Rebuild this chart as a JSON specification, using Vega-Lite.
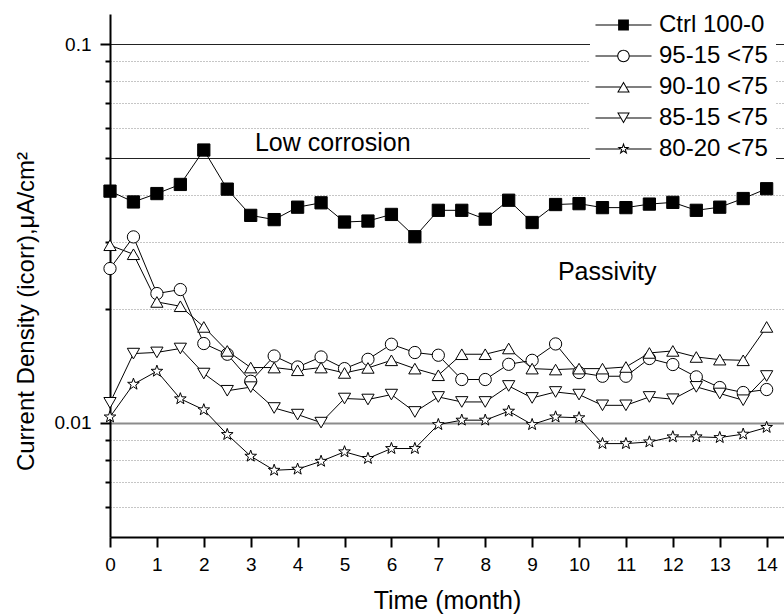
{
  "$schema": "https://vega.github.io/schema/vega-lite/v6.json",
  "width": 674,
  "height": 523,
  "autosize": {"type": "none"},
  "padding": {"left": 110, "top": 14, "right": 0, "bottom": 77},
  "background": "white",
  "config": {"font": "Liberation Sans", "view": {"stroke": null}},
  "datasets": {
    "series": [
      {"month": 0, "series": "Ctrl 100-0", "value": 0.0409},
      {"month": 0.5, "series": "Ctrl 100-0", "value": 0.0383},
      {"month": 1, "series": "Ctrl 100-0", "value": 0.0403},
      {"month": 1.5, "series": "Ctrl 100-0", "value": 0.0426},
      {"month": 2, "series": "Ctrl 100-0", "value": 0.0525},
      {"month": 2.5, "series": "Ctrl 100-0", "value": 0.0414},
      {"month": 3, "series": "Ctrl 100-0", "value": 0.0353},
      {"month": 3.5, "series": "Ctrl 100-0", "value": 0.0344},
      {"month": 4, "series": "Ctrl 100-0", "value": 0.0371},
      {"month": 4.5, "series": "Ctrl 100-0", "value": 0.0381},
      {"month": 5, "series": "Ctrl 100-0", "value": 0.0339},
      {"month": 5.5, "series": "Ctrl 100-0", "value": 0.0341},
      {"month": 6, "series": "Ctrl 100-0", "value": 0.0355},
      {"month": 6.5, "series": "Ctrl 100-0", "value": 0.0310},
      {"month": 7, "series": "Ctrl 100-0", "value": 0.0364},
      {"month": 7.5, "series": "Ctrl 100-0", "value": 0.0364},
      {"month": 8, "series": "Ctrl 100-0", "value": 0.0345},
      {"month": 8.5, "series": "Ctrl 100-0", "value": 0.0387},
      {"month": 9, "series": "Ctrl 100-0", "value": 0.0338},
      {"month": 9.5, "series": "Ctrl 100-0", "value": 0.0377},
      {"month": 10, "series": "Ctrl 100-0", "value": 0.0379},
      {"month": 10.5, "series": "Ctrl 100-0", "value": 0.0370},
      {"month": 11, "series": "Ctrl 100-0", "value": 0.0370},
      {"month": 11.5, "series": "Ctrl 100-0", "value": 0.0378},
      {"month": 12, "series": "Ctrl 100-0", "value": 0.0382},
      {"month": 12.5, "series": "Ctrl 100-0", "value": 0.0364},
      {"month": 13, "series": "Ctrl 100-0", "value": 0.0371},
      {"month": 13.5, "series": "Ctrl 100-0", "value": 0.0391},
      {"month": 14, "series": "Ctrl 100-0", "value": 0.0415},
      {"month": 0, "series": "95-15 <75", "value": 0.02555},
      {"month": 0.5, "series": "95-15 <75", "value": 0.03097},
      {"month": 1, "series": "95-15 <75", "value": 0.02195},
      {"month": 1.5, "series": "95-15 <75", "value": 0.02249},
      {"month": 2, "series": "95-15 <75", "value": 0.0162},
      {"month": 2.5, "series": "95-15 <75", "value": 0.01518},
      {"month": 3, "series": "95-15 <75", "value": 0.01288},
      {"month": 3.5, "series": "95-15 <75", "value": 0.01502},
      {"month": 4, "series": "95-15 <75", "value": 0.01405},
      {"month": 4.5, "series": "95-15 <75", "value": 0.01493},
      {"month": 5, "series": "95-15 <75", "value": 0.01391},
      {"month": 5.5, "series": "95-15 <75", "value": 0.01472},
      {"month": 6, "series": "95-15 <75", "value": 0.01613},
      {"month": 6.5, "series": "95-15 <75", "value": 0.01534},
      {"month": 7, "series": "95-15 <75", "value": 0.01509},
      {"month": 7.5, "series": "95-15 <75", "value": 0.01302},
      {"month": 8, "series": "95-15 <75", "value": 0.01302},
      {"month": 8.5, "series": "95-15 <75", "value": 0.01428},
      {"month": 9, "series": "95-15 <75", "value": 0.01463},
      {"month": 9.5, "series": "95-15 <75", "value": 0.01616},
      {"month": 10, "series": "95-15 <75", "value": 0.01358},
      {"month": 10.5, "series": "95-15 <75", "value": 0.01328},
      {"month": 11, "series": "95-15 <75", "value": 0.01328},
      {"month": 11.5, "series": "95-15 <75", "value": 0.01479},
      {"month": 12, "series": "95-15 <75", "value": 0.01426},
      {"month": 12.5, "series": "95-15 <75", "value": 0.01323},
      {"month": 13, "series": "95-15 <75", "value": 0.0124},
      {"month": 13.5, "series": "95-15 <75", "value": 0.01203},
      {"month": 14, "series": "95-15 <75", "value": 0.01225},
      {"month": 0, "series": "90-10 <75", "value": 0.02944},
      {"month": 0.5, "series": "90-10 <75", "value": 0.02787},
      {"month": 1, "series": "90-10 <75", "value": 0.02086},
      {"month": 1.5, "series": "90-10 <75", "value": 0.02032},
      {"month": 2, "series": "90-10 <75", "value": 0.01792},
      {"month": 2.5, "series": "90-10 <75", "value": 0.01549},
      {"month": 3, "series": "90-10 <75", "value": 0.014},
      {"month": 3.5, "series": "90-10 <75", "value": 0.014},
      {"month": 4, "series": "90-10 <75", "value": 0.01377},
      {"month": 4.5, "series": "90-10 <75", "value": 0.014},
      {"month": 5, "series": "90-10 <75", "value": 0.01355},
      {"month": 5.5, "series": "90-10 <75", "value": 0.01397},
      {"month": 6, "series": "90-10 <75", "value": 0.01463},
      {"month": 6.5, "series": "90-10 <75", "value": 0.01391},
      {"month": 7, "series": "90-10 <75", "value": 0.01336},
      {"month": 7.5, "series": "90-10 <75", "value": 0.01518},
      {"month": 8, "series": "90-10 <75", "value": 0.01518},
      {"month": 8.5, "series": "90-10 <75", "value": 0.01572},
      {"month": 9, "series": "90-10 <75", "value": 0.01391},
      {"month": 9.5, "series": "90-10 <75", "value": 0.01383},
      {"month": 10, "series": "90-10 <75", "value": 0.01391},
      {"month": 10.5, "series": "90-10 <75", "value": 0.01391},
      {"month": 11, "series": "90-10 <75", "value": 0.01405},
      {"month": 11.5, "series": "90-10 <75", "value": 0.0153},
      {"month": 12, "series": "90-10 <75", "value": 0.01549},
      {"month": 12.5, "series": "90-10 <75", "value": 0.01493},
      {"month": 13, "series": "90-10 <75", "value": 0.01469},
      {"month": 13.5, "series": "90-10 <75", "value": 0.01463},
      {"month": 14, "series": "90-10 <75", "value": 0.01792},
      {"month": 0, "series": "85-15 <75", "value": 0.0113},
      {"month": 0.5, "series": "85-15 <75", "value": 0.01524},
      {"month": 1, "series": "85-15 <75", "value": 0.01535},
      {"month": 1.5, "series": "85-15 <75", "value": 0.01572},
      {"month": 2, "series": "85-15 <75", "value": 0.0135},
      {"month": 2.5, "series": "85-15 <75", "value": 0.01216},
      {"month": 3, "series": "85-15 <75", "value": 0.01243},
      {"month": 3.5, "series": "85-15 <75", "value": 0.01095},
      {"month": 4, "series": "85-15 <75", "value": 0.01052},
      {"month": 4.5, "series": "85-15 <75", "value": 0.01002},
      {"month": 5, "series": "85-15 <75", "value": 0.0116},
      {"month": 5.5, "series": "85-15 <75", "value": 0.01153},
      {"month": 6, "series": "85-15 <75", "value": 0.01188},
      {"month": 6.5, "series": "85-15 <75", "value": 0.01069},
      {"month": 7, "series": "85-15 <75", "value": 0.01171},
      {"month": 7.5, "series": "85-15 <75", "value": 0.01136},
      {"month": 8, "series": "85-15 <75", "value": 0.01136},
      {"month": 8.5, "series": "85-15 <75", "value": 0.01252},
      {"month": 9, "series": "85-15 <75", "value": 0.01164},
      {"month": 9.5, "series": "85-15 <75", "value": 0.01207},
      {"month": 10, "series": "85-15 <75", "value": 0.01188},
      {"month": 10.5, "series": "85-15 <75", "value": 0.01113},
      {"month": 11, "series": "85-15 <75", "value": 0.01113},
      {"month": 11.5, "series": "85-15 <75", "value": 0.01171},
      {"month": 12, "series": "85-15 <75", "value": 0.01155},
      {"month": 12.5, "series": "85-15 <75", "value": 0.01245},
      {"month": 13, "series": "85-15 <75", "value": 0.01196},
      {"month": 13.5, "series": "85-15 <75", "value": 0.01148},
      {"month": 14, "series": "85-15 <75", "value": 0.0133},
      {"month": 0, "series": "80-20 <75", "value": 0.01037},
      {"month": 0.5, "series": "80-20 <75", "value": 0.01265},
      {"month": 1, "series": "80-20 <75", "value": 0.01369},
      {"month": 1.5, "series": "80-20 <75", "value": 0.01158},
      {"month": 2, "series": "80-20 <75", "value": 0.01083},
      {"month": 2.5, "series": "80-20 <75", "value": 0.00932},
      {"month": 3, "series": "80-20 <75", "value": 0.00817},
      {"month": 3.5, "series": "80-20 <75", "value": 0.0075},
      {"month": 4, "series": "80-20 <75", "value": 0.00755},
      {"month": 4.5, "series": "80-20 <75", "value": 0.00792},
      {"month": 5, "series": "80-20 <75", "value": 0.00839},
      {"month": 5.5, "series": "80-20 <75", "value": 0.00806},
      {"month": 6, "series": "80-20 <75", "value": 0.00856},
      {"month": 6.5, "series": "80-20 <75", "value": 0.00856},
      {"month": 7, "series": "80-20 <75", "value": 0.0099},
      {"month": 7.5, "series": "80-20 <75", "value": 0.01017},
      {"month": 8, "series": "80-20 <75", "value": 0.01017},
      {"month": 8.5, "series": "80-20 <75", "value": 0.01074},
      {"month": 9, "series": "80-20 <75", "value": 0.0099},
      {"month": 9.5, "series": "80-20 <75", "value": 0.01037},
      {"month": 10, "series": "80-20 <75", "value": 0.01032},
      {"month": 10.5, "series": "80-20 <75", "value": 0.00882},
      {"month": 11, "series": "80-20 <75", "value": 0.00882},
      {"month": 11.5, "series": "80-20 <75", "value": 0.00891},
      {"month": 12, "series": "80-20 <75", "value": 0.00919},
      {"month": 12.5, "series": "80-20 <75", "value": 0.00919},
      {"month": 13, "series": "80-20 <75", "value": 0.00915},
      {"month": 13.5, "series": "80-20 <75", "value": 0.00934},
      {"month": 14, "series": "80-20 <75", "value": 0.00973}
    ],
    "notes": [
      {"month": 3.09, "value": 0.0522, "label": "Low corrosion"},
      {"month": 9.55, "value": 0.0238, "label": "Passivity"}
    ]
  },
  "resolve": {"scale": {"shape": "independent"}, "legend": {"shape": "independent"}},
  "encoding": {
    "x": {
      "field": "month",
      "type": "quantitative",
      "scale": {"domain": [0, 14.37], "nice": false, "zero": false},
      "axis": {
        "values": [0, 0.5, 1, 1.5, 2, 2.5, 3, 3.5, 4, 4.5, 5, 5.5, 6, 6.5, 7, 7.5, 8, 8.5, 9, 9.5, 10, 10.5, 11, 11.5, 12, 12.5, 13, 13.5, 14],
        "format": "d",
        "labelExpr": "datum.value % 1 === 0 ? datum.label : ''",
        "title": "Time (month)",
        "titleFontSize": 25,
        "titleFontWeight": "normal",
        "titleColor": "black",
        "titlePadding": 14,
        "labelFontSize": 19,
        "labelColor": "black",
        "labelPadding": 8,
        "labelAngle": 0,
        "labelFlush": false,
        "labelOverlap": false,
        "tickColor": "black",
        "tickWidth": 2,
        "tickSize": {"condition": {"test": "datum.value % 1 === 0", "value": 10}, "value": 5},
        "domainColor": "black",
        "domainWidth": 2,
        "grid": false
      }
    },
    "y": {
      "field": "value",
      "type": "quantitative",
      "scale": {"type": "log", "domain": [0.005, 0.12], "nice": false},
      "axis": {
        "values": [0.006, 0.007, 0.008, 0.009, 0.01, 0.02, 0.03, 0.04, 0.05, 0.06, 0.07, 0.08, 0.09, 0.1],
        "labelExpr": "datum.value === 0.1 ? '0.1' : (datum.value === 0.01 ? '0.01' : '')",
        "title": "Current Density (icorr),μA/cm²",
        "titleFontSize": 24,
        "titleFontWeight": "normal",
        "titleColor": "black",
        "titleX": -72,
        "titleY": 297,
        "labelFontSize": 19,
        "labelColor": "black",
        "labelPadding": 9,
        "labelOverlap": false,
        "tickColor": "black",
        "tickWidth": 2,
        "tickSize": {"condition": {"test": "datum.value === 0.1 || datum.value === 0.01", "value": 10}, "value": 5},
        "domainColor": "black",
        "domainWidth": 2,
        "grid": true,
        "gridDash": {"condition": {"test": "datum.value === 0.1 || datum.value === 0.05 || datum.value === 0.01", "value": []}, "value": [1, 2]},
        "gridColor": {"condition": {"test": "datum.value === 0.1 || datum.value === 0.05", "value": "#222222"}, "value": "#8c8c8c"},
        "gridWidth": {"condition": {"test": "datum.value === 0.01", "value": 2}, "value": 1},
        "gridOpacity": 1
      }
    }
  },
  "layer": [
    {
      "data": {"name": "series"},
      "mark": {"type": "line", "color": "black", "strokeWidth": 1},
      "encoding": {"detail": {"field": "series", "type": "nominal"}}
    },
    {
      "data": {"name": "series"},
      "mark": {"type": "point", "filled": true, "stroke": "black", "strokeWidth": 1, "opacity": 1, "size": 150},
      "encoding": {
        "shape": {
          "field": "series",
          "type": "nominal",
          "scale": {
            "domain": ["Ctrl 100-0", "95-15 <75", "90-10 <75", "85-15 <75", "80-20 <75"],
            "range": ["square", "circle", "triangle-up", "triangle-down", "M0,-1L0.235,-0.324L0.951,-0.309L0.38,0.124L0.588,0.809L0,0.4L-0.588,0.809L-0.38,0.124L-0.951,-0.309L-0.235,-0.324Z"]
          },
          "legend": null
        },
        "fill": {
          "field": "series",
          "type": "nominal",
          "scale": {
            "domain": ["Ctrl 100-0", "95-15 <75", "90-10 <75", "85-15 <75", "80-20 <75"],
            "range": ["black", "white", "white", "white", "white"]
          },
          "legend": null
        }
      }
    },
    {
      "data": {"name": "series"},
      "transform": [{"filter": "false"}],
      "mark": {"type": "point", "filled": true, "color": "black", "opacity": 1},
      "encoding": {
        "shape": {
          "field": "series",
          "type": "nominal",
          "scale": {
            "domain": ["Ctrl 100-0", "95-15 <75", "90-10 <75", "85-15 <75", "80-20 <75"],
            "range": [
              "M-4.67,-0.1L-0.9,-0.1L-0.9,0.1L-4.67,0.1ZM0.9,-0.1L4.67,-0.1L4.67,0.1L0.9,0.1ZM-0.9,-0.9L0.9,-0.9L0.9,0.9L-0.9,0.9Z",
              "M-4.67,-0.1L-1.03,-0.1L-1.03,0.1L-4.67,0.1ZM1.03,-0.1L4.67,-0.1L4.67,0.1L1.03,0.1ZM1.04,0A1.04,1.04,0,1,1,-1.04,0A1.04,1.04,0,1,1,1.04,0ZM0.87,0A0.87,0.87,0,1,0,-0.87,0A0.87,0.87,0,1,0,0.87,0Z",
              "M-4.67,-0.1L-0.53,-0.1L-0.53,0.1L-4.67,0.1ZM0.53,-0.1L4.67,-0.1L4.67,0.1L0.53,0.1ZM0,-0.92L1.06,0.92L-1.06,0.92ZM0,-0.586L-0.772,0.753L0.772,0.753Z",
              "M-4.67,-0.1L-0.53,-0.1L-0.53,0.1L-4.67,0.1ZM0.53,-0.1L4.67,-0.1L4.67,0.1L0.53,0.1ZM0,0.92L1.06,-0.92L-1.06,-0.92ZM0,0.586L-0.772,-0.753L0.772,-0.753Z",
              "M-4.67,-0.1L-0.59,-0.1L-0.59,0.1L-4.67,0.1ZM0.59,-0.1L4.67,-0.1L4.67,0.1L0.59,0.1ZM0,-1.08L0.254,-0.349L1.027,-0.334L0.411,0.133L0.635,0.874L0,0.432L-0.635,0.874L-0.411,0.133L-1.027,-0.334L-0.254,-0.349ZM0,-0.54L-0.133,-0.183L-0.514,-0.167L-0.215,0.07L-0.318,0.437L0,0.226L0.318,0.437L0.215,0.07L0.514,-0.167L0.133,-0.183Z"
            ]
          },
          "legend": {
            "orient": "none",
            "legendX": 480,
            "legendY": -9,
            "title": null,
            "labelFontSize": 24,
            "labelFont": "Liberation Sans",
            "labelColor": "black",
            "labelOffset": 23.5,
            "symbolOffset": 13.5,
            "symbolSize": 144,
            "symbolFillColor": "black",
            "symbolStrokeColor": "transparent",
            "symbolStrokeWidth": 0,
            "symbolOpacity": 1,
            "rowPadding": 7,
            "padding": 8,
            "fillColor": "white",
            "strokeColor": null
          }
        }
      }
    },
    {
      "data": {"name": "notes"},
      "mark": {"type": "text", "align": "left", "baseline": "alphabetic", "fontSize": 25, "font": "Liberation Sans", "color": "black"},
      "encoding": {"text": {"field": "label", "type": "nominal"}}
    }
  ]
}
